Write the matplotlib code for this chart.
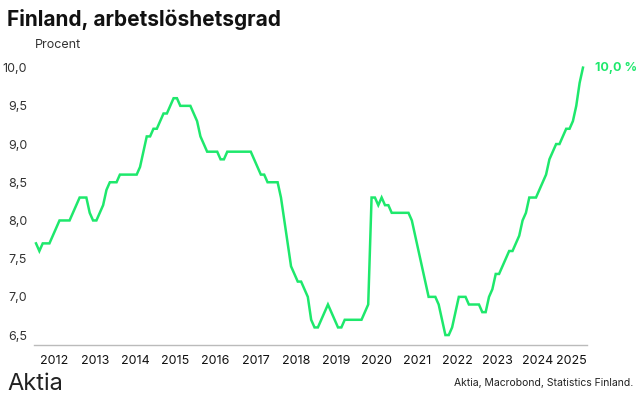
import matplotlib.pyplot as plt

# Finland unemployment rate (trend), monthly Jan 2012 - Aug 2025
start_year = 2012
values = [
    7.7, 7.6, 7.7, 7.7, 7.7, 7.8, 7.9, 8.0, 8.0, 8.0, 8.0, 8.1,   # 2012
    8.2, 8.3, 8.3, 8.3, 8.1, 8.0, 8.0, 8.1, 8.2, 8.4, 8.5, 8.5,   # 2013
    8.5, 8.6, 8.6, 8.6, 8.6, 8.6, 8.6, 8.7, 8.9, 9.1, 9.1, 9.2,   # 2014
    9.2, 9.3, 9.4, 9.4, 9.5, 9.6, 9.6, 9.5, 9.5, 9.5, 9.5, 9.4,   # 2015
    9.3, 9.1, 9.0, 8.9, 8.9, 8.9, 8.9, 8.8, 8.8, 8.9, 8.9, 8.9,   # 2016
    8.9, 8.9, 8.9, 8.9, 8.9, 8.8, 8.7, 8.6, 8.6, 8.5, 8.5, 8.5,   # 2017
    8.5, 8.3, 8.0, 7.7, 7.4, 7.3, 7.2, 7.2, 7.1, 7.0, 6.7, 6.6,   # 2018
    6.6, 6.7, 6.8, 6.9, 6.8, 6.7, 6.6, 6.6, 6.7, 6.7, 6.7, 6.7,   # 2019
    6.7, 6.7, 6.8, 6.9, 8.3, 8.3, 8.2, 8.3, 8.2, 8.2, 8.1, 8.1,   # 2020
    8.1, 8.1, 8.1, 8.1, 8.0, 7.8, 7.6, 7.4, 7.2, 7.0, 7.0, 7.0,   # 2021
    6.9, 6.7, 6.5, 6.5, 6.6, 6.8, 7.0, 7.0, 7.0, 6.9, 6.9, 6.9,   # 2022
    6.9, 6.8, 6.8, 7.0, 7.1, 7.3, 7.3, 7.4, 7.5, 7.6, 7.6, 7.7,   # 2023
    7.8, 8.0, 8.1, 8.3, 8.3, 8.3, 8.4, 8.5, 8.6, 8.8, 8.9, 9.0,   # 2024
    9.0, 9.1, 9.2, 9.2, 9.3, 9.5, 9.8, 10.0,                      # 2025
]
years = list(range(2012, 2026))
yticks = [6.5, 7.0, 7.5, 8.0, 8.5, 9.0, 9.5, 10.0]

green = "#1ee86c"
dark = "#333333"
plt.rcParams["font.family"] = ["Inter", "DejaVu Sans"]

fig = plt.figure(figsize=(6.44, 4.03), dpi=100)
ax = fig.add_axes([34 / 644, 1 - 345 / 403, (587 - 34) / 644, (345 - 60) / 403])

x = list(range(len(values)))
ax.plot(x, values, color=green, lw=1.8, solid_joinstyle="miter")

n = len(values)
ax.set_xlim(-0.6, n + 0.2)
ax.set_ylim(6.37, 10.1)

ax.set_yticks(yticks)
ax.set_yticklabels([f"{v:.1f}".replace(".", ",") for v in yticks])
ax.yaxis.set_tick_params(length=0, pad=5, labelsize=9, labelcolor=dark)

# year labels centred in each year span
centers = []
for y in years:
    a = (y - start_year) * 12 - 0.5
    b = min(a + 12, n - 0.5)
    centers.append((a + b) / 2)
ax.set_xticks(centers)
ax.set_xticklabels([str(y) for y in years])
ax.xaxis.set_tick_params(length=0, pad=7, labelsize=9, labelcolor="#111111")

for s in ["top", "right", "left"]:
    ax.spines[s].set_visible(False)
ax.spines["bottom"].set_color("#bbbbbb")
ax.spines["bottom"].set_linewidth(1)

# end label
ax.annotate(f"{values[-1]:.1f} %".replace(".", ","), xy=(n - 1, values[-1]),
            xytext=(9, 0), textcoords="offset points", color=green,
            fontsize=9, fontweight="bold", va="center", ha="left",
            annotation_clip=False)

fig.text(7 / 644, 1 - 19 / 403, "Finland, arbetslöshetsgrad", fontsize=15,
         fontweight="bold", color="#111111", va="center", ha="left")
fig.text(35 / 644, 1 - 45 / 403, "Procent", fontsize=9, color=dark,
         va="center", ha="left")
fig.text(7 / 644, 1 - 384 / 403, "Aktia", fontsize=17, color="#222222",
         va="center", ha="left")
fig.text(633 / 644, 1 - 383 / 403, "Aktia, Macrobond, Statistics Finland.",
         fontsize=7.5, color="#222222", va="center", ha="right")

fig.savefig("out.png", dpi=100)
